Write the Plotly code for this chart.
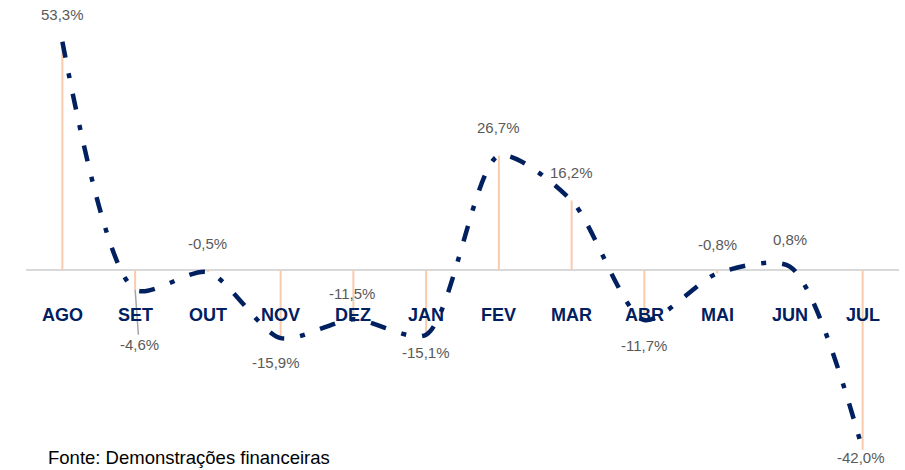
import plotly.graph_objects as go

months = ["AGO", "SET", "OUT", "NOV", "DEZ", "JAN", "FEV", "MAR", "ABR", "MAI", "JUN", "JUL"]
values = [53.3, -4.6, -0.5, -15.9, -11.5, -15.1, 26.7, 16.2, -11.7, -0.8, 0.8, -42.0]
source_note = "Fonte: Demonstrações financeiras"

# label offsets in pixels (style)
label_dy = [27, -55, 29, -24, 26, -18, 28, 28, -25, 29, 27, -8]
label_dx = [0, 4, 0, -5, -1, 0, 0, 0, 0, 0, 0, -2]

NAVY = "#002060"
PEACH = "#F8CBAD"
GRAY = "#595959"

labels = [f"{v:.1f}".replace(".", ",") + "%" for v in values]

fig = go.Figure()

# drop lines from each point to zero
fig.add_trace(go.Scatter(
    x=months, y=values, mode="markers",
    marker=dict(size=1, color="rgba(0,0,0,0)"),
    error_y=dict(
        type="data", symmetric=False,
        array=[(-v if v < 0 else 0) for v in values],
        arrayminus=[(v if v > 0 else 0) for v in values],
        color=PEACH, thickness=2, width=0,
    ),
    hoverinfo="skip", showlegend=False,
))

# main smoothed dash-dot line
fig.add_trace(go.Scatter(
    x=months, y=values, mode="lines",
    line=dict(color=NAVY, width=4.5, shape="spline", smoothing=0.75,
              dash="16px,16px,5px,16px"),
    showlegend=False,
))

annotations = []
for m, v, t, dy, dx in zip(months, values, labels, label_dy, label_dx):
    if m == "SET":
        annotations.append(dict(
            x=m, y=v, xref="x", yref="y", text=t, showarrow=True,
            arrowhead=0, arrowwidth=1.5, arrowcolor="#A6A6A6",
            ax=dx, ay=-dy, standoff=0,
            font=dict(family="Liberation Sans", size=15, color=GRAY),
        ))
    else:
        annotations.append(dict(
            x=m, y=v, xref="x", yref="y", text=t, showarrow=False,
            xshift=dx, yshift=dy,
            font=dict(family="Liberation Sans", size=15, color=GRAY),
        ))

for m in months:
    annotations.append(dict(
        x=m, y=0, xref="x", yref="y", text=f"<b>{m}</b>", showarrow=False,
        yshift=-45,
        font=dict(family="Liberation Sans", size=18, color=NAVY),
    ))

plot_w = 905 - 26 - 6
plot_h = 470 - 13 - 3
annotations.append(dict(
    x=(47 - 26) / plot_w, y=(470 - 3 - 457) / plot_h,
    xref="paper", yref="paper", text=source_note, showarrow=False,
    xanchor="left", yanchor="middle", borderpad=0,
    font=dict(family="Liberation Sans", size=18.5, color="#000000"),
))

fig.update_layout(
    width=905, height=470,
    margin=dict(l=26, r=6, t=13, b=3, autoexpand=False),
    paper_bgcolor="white", plot_bgcolor="white",
    xaxis=dict(type="category", range=[-0.5, 11.5], showticklabels=False,
               showgrid=False, zeroline=False, showline=False, ticks=""),
    yaxis=dict(range=[-46, 60], showticklabels=False, showgrid=False,
               zeroline=True, zerolinecolor="#D9D9D9", zerolinewidth=2,
               showline=False, ticks=""),
    annotations=annotations,
)

fig.write_html(
    "out.html",
    config={"displayModeBar": False},
    post_script="document.body.style.margin='0';document.body.style.overflow='hidden';",
)
